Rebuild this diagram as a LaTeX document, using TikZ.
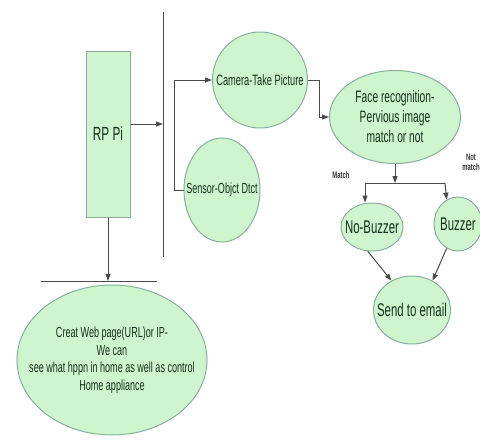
\documentclass[tikz,border=0pt]{standalone}
\usepackage{fontspec}
\setmainfont[FakeStretch=0.62]{Liberation Sans}
\usetikzlibrary{shapes.geometric,arrows.meta}
\definecolor{fillc}{HTML}{CFF5CF}
\definecolor{edgec}{HTML}{86AE9E}
\definecolor{txtc}{HTML}{16301A}
\definecolor{linec}{HTML}{4A4A4A}
\tikzset{
  blob/.style={ellipse, draw=edgec, fill=fillc, line width=1pt, inner sep=-200pt, text=txtc, align=center},
  box/.style={rectangle, draw=edgec, fill=fillc, line width=1pt, inner sep=0pt, text=txtc},
  ln/.style={draw=linec, line width=1pt},
  arr/.style={ln, -{Triangle[length=7pt,width=5pt]}},
  lbl/.style={font=\fontsize{9.5}{10}\selectfont\bfseries, text=black!80, align=center, inner sep=0pt}
}
\begin{document}
\begin{tikzpicture}[x=1pt,y=-1pt]
\useasboundingbox (0,0) rectangle (480,442);
% nodes
\node[box, minimum width=44pt, minimum height=166pt, font=\fontsize{19}{20}\selectfont] (rp) at (108,134) {RP Pi};
\node[blob, minimum width=95pt, minimum height=96pt, font=\fontsize{15}{16}\selectfont] (camera) at (260,80) {Camera-Take Picture};
\node[blob, minimum width=76pt, minimum height=104pt, font=\fontsize{14.6}{16}\selectfont] (sensor) at (222,190) {Sensor-Objct Dtct};
\node[blob, minimum width=131pt, minimum height=93pt, font=\fontsize{16.5}{20}\selectfont] (face) at (395,117) {Face recognition-\\Pervious image\\match or not};
\node[blob, minimum width=62pt, minimum height=48pt, font=\fontsize{18.4}{20}\selectfont] (nobuzzer) at (372,227) {No-Buzzer};
\node[blob, minimum width=48pt, minimum height=54pt, font=\fontsize{18.4}{20}\selectfont] (buzzer) at (458,224) {Buzzer};
\node[blob, minimum width=77pt, minimum height=68pt, font=\fontsize{18.4}{20}\selectfont] (email) at (412,310) {Send to email};
\node[blob, minimum width=190pt, minimum height=150pt, font=\fontsize{14.6}{17.5}\selectfont] (web) at (112,360) {Creat Web page(URL)or IP-\\We can\\see what hppn in home as well as control\\Home appliance};
\node[lbl] (match) at (341,175) {Match};
\node[lbl] (notmatch) at (471,162) {Not\\match};
% separator lines
\coordinate (vtop) at (163,12);
\coordinate (vbot) at (163,257);
\draw[ln] (vtop) -- (vbot);
\coordinate (hl) at (41,281);
\coordinate (hr) at (157,281);
\draw[ln] (hl) -- (hr);
% connectors
\draw[arr] (rp.east |- 0,124) -- (vtop |- 0,124);
\draw[arr] (sensor.west) -- ++(-9,0) |- (camera.west);
\draw[arr] (camera.east) -- ++(11,0) |- (face.west);
\coordinate (fl) at (365,183);
\coordinate (fr) at (445,183);
\draw[arr] (face.south) -- (face.south |- fl);
\draw[ln] (fl) -- (fr);
\draw[arr] (fl) -- (nobuzzer.north -| fl);
\draw[arr] (fr) -- (buzzer.115);
\draw[arr] (nobuzzer.-100) -- (email.125);
\draw[arr] (buzzer.-115) -- (email.55);
\draw[arr] (rp.south) -- (rp.south |- hl);
\end{tikzpicture}
\end{document}
